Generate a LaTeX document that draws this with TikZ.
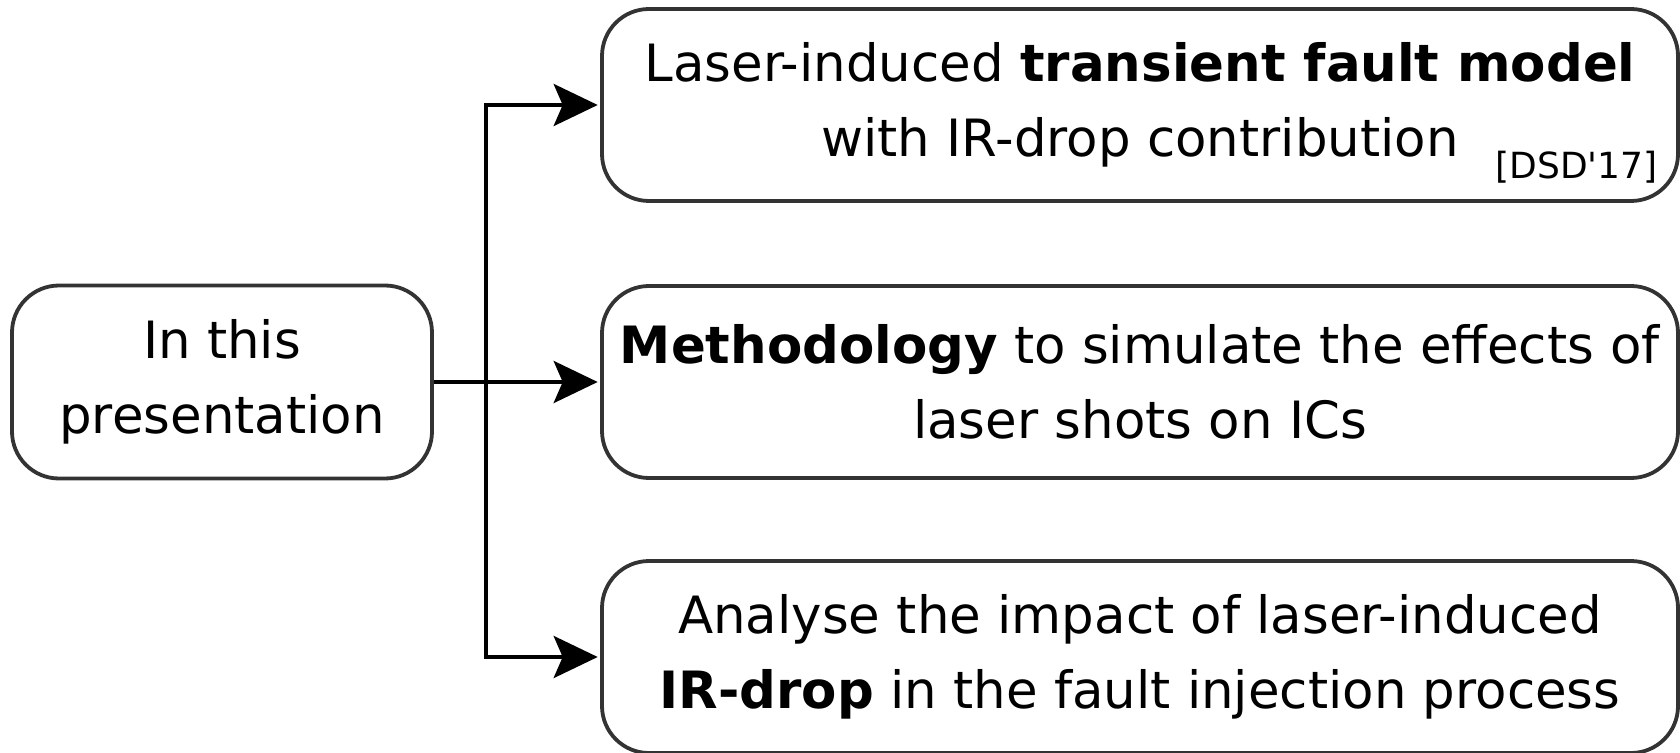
\documentclass[tikz,border=0pt]{standalone}
\usepackage{fontspec}
\setmainfont{DejaVu Sans}
\usetikzlibrary{arrows.meta}
\definecolor{edgegray}{HTML}{333333}
\tikzset{
  box/.style={draw=edgegray, line width=1.9pt, rounded corners=23.5pt,
    fill=white, align=center, inner sep=0pt,
    font=\fontsize{25.7pt}{37.5pt}\selectfont},
  leftbox/.style={box, minimum width=210pt, minimum height=96.5pt},
  rightbox/.style={box, minimum width=538pt, minimum height=96pt},
  link/.style={draw=black, line width=2pt,
    -{Stealth[length=22pt, width=21pt, inset=4.5pt]}, shorten >=1.2pt},
  note/.style={font=\fontsize{18pt}{20pt}\selectfont, inner sep=0pt}
}
\begin{document}
\begin{tikzpicture}[x=0.5pt, y=-0.5pt]
  \useasboundingbox (0,0) rectangle (1680,753);

  % source box
  \node[leftbox] (src) at (222,382) {In this\\presentation};

  % three outcome boxes
  \node[rightbox] (fault) at (1140,105)
    {Laser-induced \textbf{transient fault model}\\with IR-drop contribution};
  \node[note, anchor=base east] (ref) at (1658,179) {[DSD\textquotesingle17]};
  \node[rightbox] (method) at (1140,382)
    {\textbf{Methodology} to simulate the effects of\\laser shots on ICs};
  \node[rightbox] (impact) at (1140,657)
    {Analyse the impact of laser-induced\\\textbf{IR-drop} in the fault injection process};

  % branching connectors
  \coordinate (split) at (486,382);
  \draw[line width=2pt] (src.east) -- (split);
  \draw[link] (split) |- (fault.west);
  \draw[link] (split) -- (method.west);
  \draw[link] (split) |- (impact.west);
\end{tikzpicture}
\end{document}
